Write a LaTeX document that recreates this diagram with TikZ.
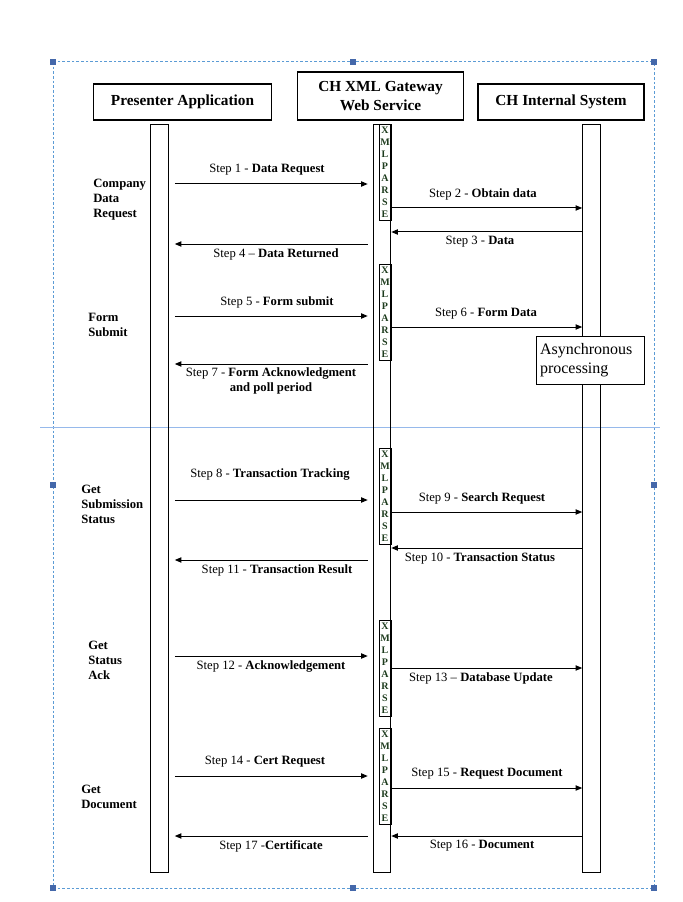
\documentclass[tikz,border=0pt]{standalone}
\usepackage{fontspec}
\setmainfont{Liberation Serif}
\usetikzlibrary{arrows.meta, positioning}

\definecolor{framecol}{RGB}{91,155,213}
\definecolor{handlecol}{RGB}{68,104,170}
\definecolor{guidecol}{RGB}{150,185,235}
\definecolor{lettercol}{RGB}{30,60,30}

\begin{document}
\begin{tikzpicture}[
            x=0.75pt, y=-0.75pt,
            header/.style={draw, line width=0.9pt, align=center, inner sep=0pt, font=\bfseries\fontsize{11.5}{14}\selectfont},
            lifeline/.style={draw, line width=0.9pt, minimum width=13pt, minimum height=561pt, inner sep=0pt, anchor=north},
            parse/.style={draw, line width=0.7pt, minimum width=9pt, minimum height=72pt, inner sep=0pt, anchor=north, align=center, text=lettercol, font=\bfseries\fontsize{7.5}{9}\selectfont},
            msg/.style={-{Triangle[length=5pt, width=4pt]}, line width=0.75pt},
            toright/.style={msg, shorten <=4.5pt, shorten >=3.75pt},
            toleft/.style={msg, shorten <=3.75pt, shorten >=4.5pt},
            steplabel/.style={align=center, inner sep=0pt, font=\fontsize{9.5}{11.5}\selectfont},
            phase/.style={anchor=west, align=left, inner sep=0pt, font=\bfseries\fontsize{9.5}{11.25}\selectfont},
            handle/.style={fill=handlecol, minimum size=4pt, inner sep=0pt}
        ]
        \useasboundingbox (0,0) rectangle (682,902);

        % Frame
        \draw[framecol, line width=0.75pt, dash pattern=on 2pt off 1.5pt] (53,62) rectangle (654,888);
        \draw[guidecol, line width=0.75pt] (40,427) -- (660,427);
        \foreach \hx/\hy in {53/62, 353/62, 654/62, 53/485, 654/485, 53/888, 353/888, 654/888}
            \node[handle] at (\hx,\hy) {};

        % Headers
        \node[header, minimum width=134pt, minimum height=27pt] (pa) at (182.5,102) {Presenter Application};
        \node[header, minimum width=125pt, minimum height=36pt] (gw) at (380.5,96) {CH XML Gateway\\Web Service};
        \node[header, minimum width=124.5pt, minimum height=27pt] (cs) at (561,102) {CH Internal System};

        % Lifelines
        \node[lifeline] (pl) at (159.5,124) {};
        \node[lifeline] (gl) at (382,124) {};
        \node[lifeline] (il) at (591.5,124) {};

        % Parse boxes
        \node[parse] (p1) at (385,124) {X\\M\\L\\P\\A\\R\\S\\E};
        \node[parse] (p2) at (385,264) {X\\M\\L\\P\\A\\R\\S\\E};
        \node[parse] (p3) at (385,448) {X\\M\\L\\P\\A\\R\\S\\E};
        \node[parse] (p4) at (385,620) {X\\M\\L\\P\\A\\R\\S\\E};
        \node[parse] (p5) at (385,728) {X\\M\\L\\P\\A\\R\\S\\E};

        % Asynchronous note
        \node[draw, fill=white, line width=0.75pt, minimum width=81pt, minimum height=36pt, text width=75pt, inner xsep=3pt, align=left, font=\fontsize{12}{14}\selectfont] (async) at (590,360) {Asynchronous\\processing};

        % Phases
        \node[phase] (ph1) at (93,200) {Company\\Data\\Request};
        \node[phase] (ph2) at (88,324.5) {Form\\Submit};
        \node[phase] (ph3) at (81,504) {Get\\Submission\\Status};
        \node[phase] (ph4) at (88,660) {Get\\Status\\Ack};
        \node[phase] (ph5) at (81,796.5) {Get\\Document};

        % Arrows
        \draw[toright] (pl.east |- 0,184) -- (gl.west |- 0,184);
        \draw[msg] (gl.east |- 0,208) -- (il.west |- 0,208);
        \draw[msg] (il.west |- 0,232) -- (gl.east |- 0,232);
        \draw[toleft] (gl.west |- 0,244) -- (pl.east |- 0,244);
        \draw[toright] (pl.east |- 0,316) -- (gl.west |- 0,316);
        \draw[msg] (gl.east |- 0,327) -- (il.west |- 0,327);
        \draw[toleft] (gl.west |- 0,364) -- (pl.east |- 0,364);
        \draw[toright] (pl.east |- 0,500) -- (gl.west |- 0,500);
        \draw[msg] (gl.east |- 0,512) -- (il.west |- 0,512);
        \draw[msg] (il.west |- 0,548) -- (gl.east |- 0,548);
        \draw[toleft] (gl.west |- 0,560) -- (pl.east |- 0,560);
        \draw[toright] (pl.east |- 0,656) -- (gl.west |- 0,656);
        \draw[msg] (gl.east |- 0,668) -- (il.west |- 0,668);
        \draw[toright] (pl.east |- 0,776) -- (gl.west |- 0,776);
        \draw[msg] (gl.east |- 0,788) -- (il.west |- 0,788);
        \draw[msg] (il.west |- 0,836) -- (gl.east |- 0,836);
        \draw[toleft] (gl.west |- 0,836) -- (pl.east |- 0,836);

        % Step labels
        \node[steplabel] (s1) at (267,170) {Step 1 - \textbf{Data Request}};
        \node[steplabel] (s2) at (483,194) {Step 2 - \textbf{Obtain data}};
        \node[steplabel] (s3) at (480,242) {Step 3 - \textbf{Data}};
        \node[steplabel] (s4) at (276,254) {Step 4 – \textbf{Data Returned}};
        \node[steplabel] (s5) at (277,302) {Step 5 - \textbf{Form submit}};
        \node[steplabel] (s6) at (486,314) {Step 6 - \textbf{Form Data}};
        \node[steplabel] (s7) at (271,381) {Step 7 - \textbf{Form Acknowledgment}\\\textbf{and poll period}};
        \node[steplabel] (s8) at (270,474) {Step 8 - \textbf{Transaction Tracking}};
        \node[steplabel] (s9) at (482,498) {Step 9 - \textbf{Search Request}};
        \node[steplabel] (s10) at (480,558) {Step 10 - \textbf{Transaction Status}};
        \node[steplabel] (s11) at (277,570) {Step 11 - \textbf{Transaction Result}};
        \node[steplabel] (s12) at (271,666) {Step 12 - \textbf{Acknowledgement}};
        \node[steplabel] (s13) at (481,678) {Step 13 – \textbf{Database Update}};
        \node[steplabel] (s14) at (265,762) {Step 14 - \textbf{Cert Request}};
        \node[steplabel] (s15) at (487,774) {Step 15 - \textbf{Request Document}};
        \node[steplabel] (s16) at (482,846) {Step 16 - \textbf{Document}};
        \node[steplabel] (s17) at (271,846) {Step 17 -\textbf{Certificate}};
\end{tikzpicture}
\end{document}
